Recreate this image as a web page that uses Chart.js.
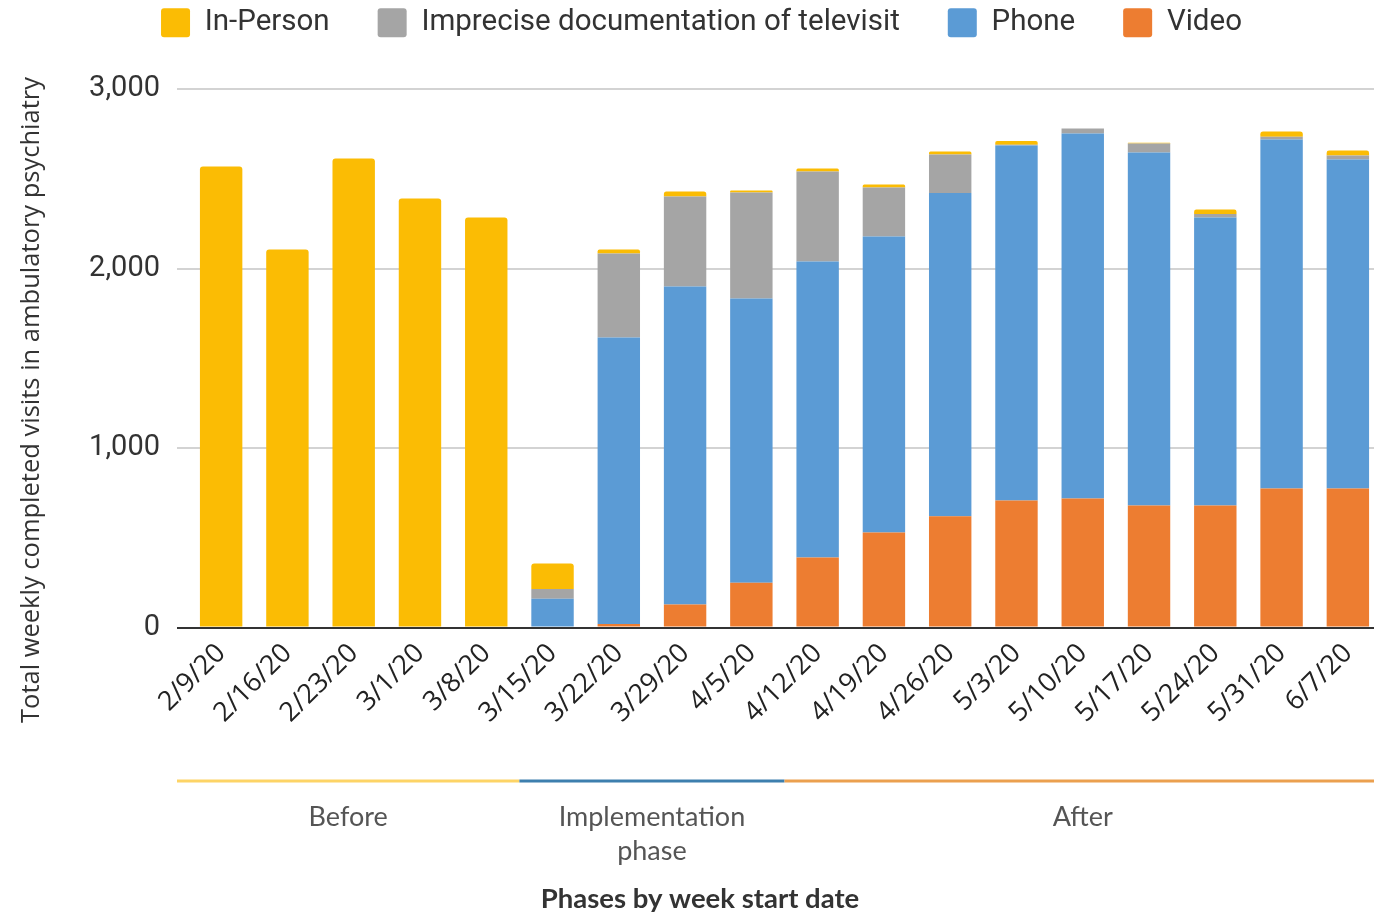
<!DOCTYPE html>
<html>
<head>
<meta charset="utf-8">
<script src="https://cdn.jsdelivr.net/npm/chart.js@4.4.0/dist/chart.umd.min.js"></script>
<style>
  html, body { margin: 0; padding: 0; background: #fff; overflow: hidden; }
  #wrap { width: 1381px; height: 913px; }
</style>
</head>
<body>
<div id="wrap"><canvas id="visits" width="1381" height="913"></canvas></div>
<script>
// week start dates
const weeks = ["2/9/20", "2/16/20", "2/23/20", "3/1/20", "3/8/20", "3/15/20", "3/22/20", "3/29/20", "4/5/20",
  "4/12/20", "4/19/20", "4/26/20", "5/3/20", "5/10/20", "5/17/20", "5/24/20", "5/31/20", "6/7/20"];

// visit counts per week, stacked bottom to top
const video = [0, 0, 0, 0, 0, 0, 20, 128, 250, 390, 529, 620, 707, 719, 680, 680, 774, 774];
const phone = [0, 0, 0, 0, 0, 160, 1596, 1772, 1583, 1649, 1649, 1800, 1978, 2033, 1966, 1604, 1945, 1833];
const imprecise = [0, 0, 0, 0, 0, 55, 468, 501, 590, 501, 273, 215, 5, 28, 50, 20, 15, 23];
const inPerson = [2568, 2106, 2613, 2390, 2284, 142, 22, 28, 11, 17, 17, 17, 20, 0, 5, 25, 29, 27];

const yTicks = [0, 1000, 2000, 3000];
const yTitle = "Total weekly completed visits in ambulatory psychiatry";

// phases: first week index of each phase
const phaseNames = [["Before"], ["Implementation", "phase"], ["After"]];
const phaseStart = [0, 5, 9];
const phaseColors = ["#fdd466", "#3d7fae", "#eba04f"];
const phaseTitle = "Phases by week start date";

// leave room between the legend and the plot
const legendSpace = {
  id: "legendSpace",
  beforeInit(chart) {
    const fit = chart.legend.fit;
    chart.legend.fit = function () {
      fit.call(this);
      this.height = 129;
    };
  },
};

// y title and the phase bands under the date labels
const extrasPlugin = {
  id: "extras",
  afterDraw(chart) {
    const ctx = chart.ctx;
    const x = chart.scales.x;
    const area = chart.chartArea;
    const lineY = 781;
    ctx.save();

    ctx.save();
    ctx.translate(32, 400);
    ctx.rotate(-Math.PI / 2);
    ctx.fillStyle = "#333";
    ctx.font = "25.5px 'Open Sans'";
    ctx.textAlign = "center";
    ctx.textBaseline = "middle";
    ctx.fillText(yTitle, 0, 0);
    ctx.restore();

    for (let p = 0; p < phaseStart.length; p++) {
      const i = phaseStart[p];
      const from = i === 0 ? area.left - 11 : (x.getPixelForValue(i - 1) + x.getPixelForValue(i)) / 2;
      const next = phaseStart[p + 1];
      const to = next === undefined ? area.right : (x.getPixelForValue(next - 1) + x.getPixelForValue(next)) / 2;
      ctx.strokeStyle = phaseColors[p];
      ctx.lineWidth = 3;
      ctx.beginPath();
      ctx.moveTo(from, lineY);
      ctx.lineTo(to, lineY);
      ctx.stroke();

      ctx.fillStyle = "#555";
      ctx.font = "27px Lato";
      ctx.textAlign = "center";
      ctx.textBaseline = "middle";
      phaseNames[p].forEach((line, k) => {
        ctx.fillText(line, (from + to) / 2, 817 + k * 34);
      });
    }
    ctx.fillStyle = "#333";
    ctx.font = "bold 27.5px Lato";
    ctx.textAlign = "center";
    ctx.textBaseline = "middle";
    ctx.fillText(phaseTitle, 700, 899);
    ctx.restore();
  },
};

const visitsCtx = document.getElementById("visits").getContext("2d");
new Chart(visitsCtx, {
  type: "bar",
  data: {
    labels: weeks,
    datasets: [
      { label: "Video", data: video, backgroundColor: "#ed7d31" },
      { label: "Phone", data: phone, backgroundColor: "#5b9bd5" },
      { label: "Imprecise documentation of televisit", data: imprecise, backgroundColor: "#a5a5a5" },
      { label: "In-Person", data: inPerson, backgroundColor: "#fbbc04", borderRadius: 3 },
    ],
  },
  options: {
    responsive: false,
    animation: false,
    layout: {
      padding: { left: 22, right: 0, top: -40, bottom: 182 },
    },
    datasets: {
      bar: {
        categoryPercentage: 1,
        barPercentage: 0.64,
      },
    },
    plugins: {
      tooltip: { enabled: false },
      legend: {
        position: "top",
        reverse: true,
        labels: {
          boxWidth: 29,
          boxHeight: 29,
          useBorderRadius: true,
          borderRadius: 3,
          padding: 48,
          color: "#333",
          font: { family: "Roboto", size: 29.5 },
        },
      },
    },
    scales: {
      x: {
        stacked: true,
        grid: { display: false },
        border: { color: "#333", width: 2 },
        ticks: {
          color: "#222",
          maxRotation: 45,
          minRotation: 45,
          padding: 2,
          font: { family: "Open Sans", size: 27 },
        },
      },
      y: {
        stacked: true,
        min: 0,
        max: 3000,
        afterBuildTicks(axis) {
          axis.ticks = yTicks.map((v) => ({ value: v }));
        },
        afterFit(axis) {
          axis.width = 166;
        },
        border: { display: false },
        grid: {
          color: (c) => (c.tick && c.tick.value === 0 ? "#333" : "#d3d3d3"),
          lineWidth: 2,
          tickLength: 11,
        },
        ticks: {
          color: "#333",
          padding: 17,
          font: { family: "Roboto", size: 29 },
          callback: function (value) {
            return value.toLocaleString("en-US");
          },
        },
      },
    },
  },
  plugins: [legendSpace, extrasPlugin],
});
</script>
</body>
</html>
